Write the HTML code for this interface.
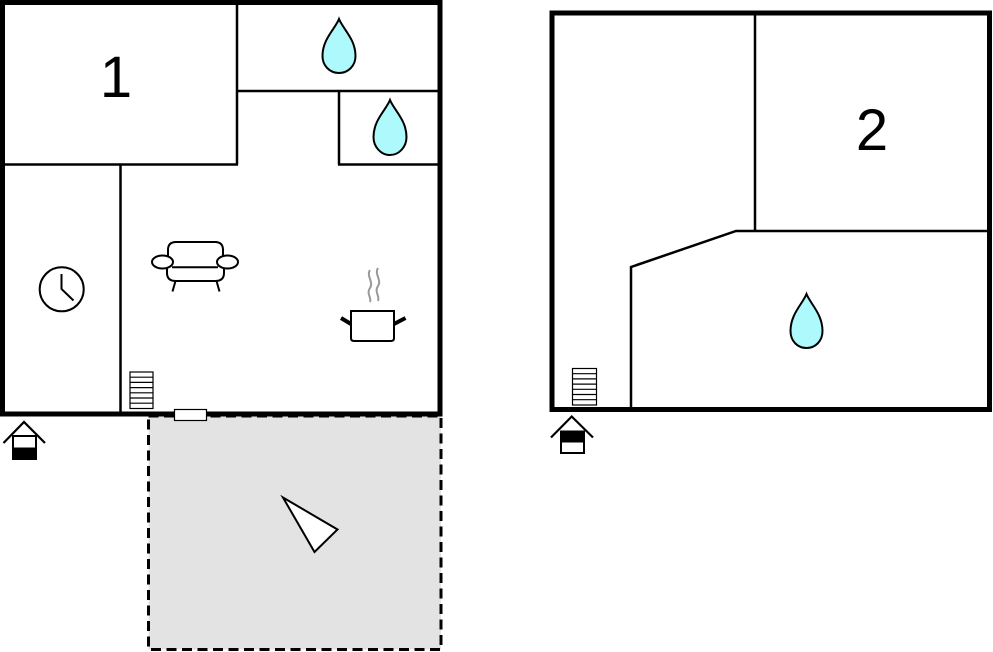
<!DOCTYPE html>
<html>
<head>
<meta charset="utf-8">
<style>
html,body{margin:0;padding:0;background:#fff;}
svg{display:block;}
text{font-family:"Liberation Sans",sans-serif;}
</style>
</head>
<body>
<svg width="993" height="652" viewBox="0 0 993 652" xmlns="http://www.w3.org/2000/svg">
  <rect x="0" y="0" width="993" height="652" fill="#fff"/>

  <!-- Terrace -->
  <rect x="148.5" y="416" width="292.5" height="233.5" fill="#e3e3e3" stroke="#000" stroke-width="3" stroke-dasharray="10 5.5"/>
  <polygon points="283,497.5 337.5,529.5 314.5,552" fill="#fff" stroke="#000" stroke-width="2"/>

  <!-- Building 1 inner walls -->
  <g stroke="#000" stroke-width="2.5" fill="none">
    <line x1="237" y1="2" x2="237" y2="164.5"/>
    <line x1="2" y1="164.5" x2="238" y2="164.5"/>
    <line x1="237" y1="91" x2="440" y2="91"/>
    <line x1="339" y1="91" x2="339" y2="164.5"/>
    <line x1="338" y1="164.5" x2="440" y2="164.5"/>
    <line x1="120.5" y1="164" x2="120.5" y2="413"/>
  </g>
  <!-- Building 1 outer walls -->
  <rect x="2.5" y="2.5" width="437.5" height="411.5" fill="none" stroke="#000" stroke-width="5"/>

  <!-- window/door on bottom wall -->
  <rect x="174.5" y="409.5" width="32" height="11" fill="#fff" stroke="#000" stroke-width="1.2"/>

  <!-- "1" -->
  <text x="116" y="97" font-size="58" text-anchor="middle" fill="#000">1</text>

  <!-- Drops building 1 -->
  <path d="M339,19 C343,29 355.5,39 355.5,56 C355.5,66 348,73 339,73 C330,73 322.5,66 322.5,56 C322.5,39 335,29 339,19 Z" fill="#aef9fb" stroke="#000" stroke-width="2"/>
  <path d="M390,100 C394,110 406.5,120 406.5,137 C406.5,147 399,155 390,155 C381,155 373.5,147 373.5,137 C373.5,120 386,110 390,100 Z" fill="#aef9fb" stroke="#000" stroke-width="2"/>

  <!-- Clock -->
  <circle cx="61.7" cy="289.3" r="22" fill="none" stroke="#000" stroke-width="2"/>
  <polyline points="61.5,274 61.5,289 73.5,300.5" fill="none" stroke="#000" stroke-width="2"/>

  <!-- Sofa -->
  <g fill="none" stroke="#000" stroke-width="2">
    <path d="M168,256 L168,250 Q168,242 176,242 L215,242 Q223,242 223,250 L223,256"/>
    <path d="M167,267 L167,273 Q167,281 176,281 L215,281 Q224,281 224,273 L224,267"/>
    <line x1="172" y1="267.3" x2="218" y2="267.3"/>
    <ellipse cx="162.5" cy="262" rx="10.5" ry="6.5" fill="#fff"/>
    <ellipse cx="227.5" cy="262" rx="10.5" ry="6.5" fill="#fff"/>
    <line x1="175.5" y1="281" x2="172.5" y2="291.5"/>
    <line x1="216.5" y1="281" x2="219.5" y2="291.5"/>
  </g>

  <!-- Pot -->
  <g fill="none">
    <path d="M370,270 C366,276 374,282 370,288 C366,294 372,298 370,302" stroke="#999" stroke-width="2"/>
    <path d="M378,268 C374,274 382,280 378,286 C374,292 380,296 378,301" stroke="#999" stroke-width="2"/>
    <path d="M351,311 L351,338 Q351,341 354,341 L391,341 Q394,341 394,338 L394,311 Z" stroke="#000" stroke-width="2" fill="#fff"/>
    <line x1="341" y1="318" x2="351" y2="324" stroke="#000" stroke-width="4"/>
    <line x1="394" y1="324" x2="405.5" y2="318" stroke="#000" stroke-width="4"/>
  </g>

  <!-- Stairs 1 -->
  <g fill="#fff" stroke="#000" stroke-width="1.2">
    <rect x="130" y="372" width="23" height="36.5"/>
    <line x1="130" y1="377.2" x2="153" y2="377.2"/>
    <line x1="130" y1="382.4" x2="153" y2="382.4"/>
    <line x1="130" y1="387.6" x2="153" y2="387.6"/>
    <line x1="130" y1="392.8" x2="153" y2="392.8"/>
    <line x1="130" y1="398" x2="153" y2="398"/>
    <line x1="130" y1="403.2" x2="153" y2="403.2"/>
  </g>

  <!-- Entrance icon 1 -->
  <polyline points="3.5,443 24,422 45,443" fill="none" stroke="#000" stroke-width="2.2"/>
  <rect x="13" y="436" width="23" height="23" fill="#fff" stroke="#000" stroke-width="2"/>
  <rect x="13" y="447.5" width="23" height="12" fill="#000"/>

  <!-- Building 2 inner walls -->
  <g stroke="#000" stroke-width="2.5" fill="none">
    <line x1="755" y1="14" x2="755" y2="231"/>
    <polyline points="988,231 736,231 631,267 631,409"/>
  </g>
  <!-- Building 2 outer walls -->
  <rect x="552" y="13" width="437.5" height="396.5" fill="none" stroke="#000" stroke-width="5"/>

  <!-- "2" -->
  <text x="872" y="150" font-size="58" text-anchor="middle" fill="#000">2</text>

  <!-- Drop building 2 -->
  <path d="M806.5,294 C810.5,304 822.5,314 822.5,331 C822.5,341 815.5,348 806.5,348 C797.5,348 790.5,341 790.5,331 C790.5,314 802.5,304 806.5,294 Z" fill="#aef9fb" stroke="#000" stroke-width="2"/>

  <!-- Stairs 2 -->
  <g fill="#fff" stroke="#000" stroke-width="1.2">
    <rect x="572.5" y="368.5" width="24" height="36.5"/>
    <line x1="572.5" y1="373.7" x2="596.5" y2="373.7"/>
    <line x1="572.5" y1="378.9" x2="596.5" y2="378.9"/>
    <line x1="572.5" y1="384.1" x2="596.5" y2="384.1"/>
    <line x1="572.5" y1="389.3" x2="596.5" y2="389.3"/>
    <line x1="572.5" y1="394.5" x2="596.5" y2="394.5"/>
    <line x1="572.5" y1="399.7" x2="596.5" y2="399.7"/>
  </g>

  <!-- Entrance icon 2 -->
  <polyline points="551,437.5 571.7,416.5 593,437.5" fill="none" stroke="#000" stroke-width="2.2"/>
  <rect x="561" y="431.5" width="23" height="21.5" fill="#fff" stroke="#000" stroke-width="2"/>
  <rect x="561" y="431.5" width="23" height="11" fill="#000"/>
</svg>
</body>
</html>
